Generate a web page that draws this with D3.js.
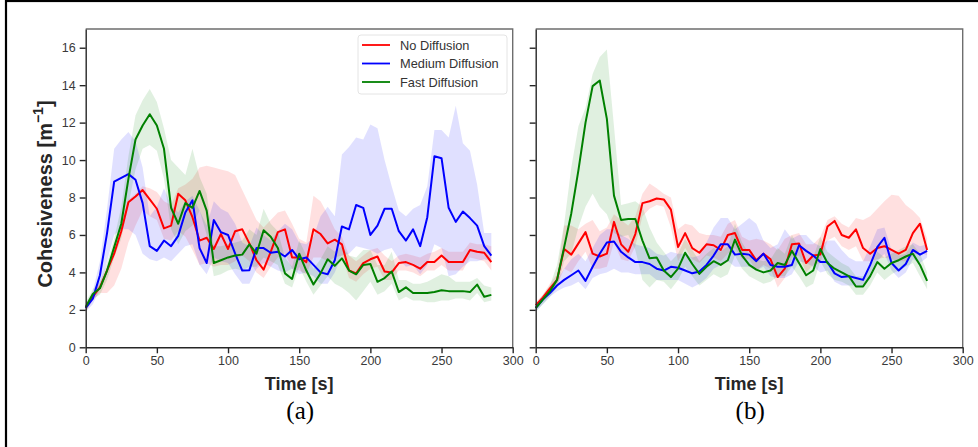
<!DOCTYPE html>
<html>
<head>
<meta charset="utf-8">
<script src="https://cdn.jsdelivr.net/npm/d3@7"></script>
<style>
  body { margin: 0; background: #fff; }
  text { font-family: "Liberation Sans", Arial, sans-serif; }
</style>
</head>
<body>
<script>

// time stamps [s]
var timeA = [0,5,10,15,20,25,30,35,40,45,50,55,60,65,70,75,80,85,90,95,100,105,110,115,120,125,130,135,140,145,
  150,155,160,165,170,175,180,185,190,195,200,205,210,215,220,225,230,235,240,245,250,255,260,265,270,275,280,285];
var timeB = [0,5,10,15,20,25,30,35,40,45,50,55,60,65,70,75,80,85,90,95,100,105,110,115,120,125,130,135,140,145,
  150,155,160,165,170,175,180,185,190,195,200,205,210,215,220,225,230,235,240,245,250,255,260,265,270,275];

var seriesNames = ["No Diffusion", "Medium Diffusion", "Fast Diffusion"];
var seriesColors = ["#ff0000", "#0000ff", "#008000"];
var xTicks = [0, 50, 100, 150, 200, 250, 300];
var yTicks = [0, 2, 4, 6, 8, 10, 12, 14, 16];
var panelLabels = ["(a)", "(b)"];

// panel (a): mean, lower and upper edge of the shaded band
var noDiffA = [2.1,2.7,3.2,4.1,5.0,6.2,7.75,8.05,8.4,7.9, 7.4,6.35,6.5,8.2,7.85,6.95,5.7,5.85,5.25,6.05,
  5.25,6.2,6.3,5.55,4.65,4.15,5.1,6.15,6.3,4.8, 4.8,4.55,6.3,6.05,5.55,5.75,5.5,4.1,3.95,4.5,
  4.7,4.85,4.05,4.0,4.5,4.55,4.4,4.2,4.55,4.55, 4.9,4.55,4.55,4.55,5.2,5.1,5.05,4.55];
var noDiffAHi = [2.3,2.9,3.4,4.3,5.3,6.6,7.9,8.2,8.6,8.5, 8.3,7.8,7.6,8.5,8.7,9.0,9.6,9.7,9.6,9.5,
  9.4,9.2,8.4,7.6,6.8,6.4,6.8,7.2,7.3,6.6, 5.8,5.6,8.1,7.8,7.1,6.3,5.9,4.9,4.6,4.9,
  5.2,5.3,4.9,4.6,4.9,5.0,4.9,4.8,5.0,5.1, 5.3,5.1,5.1,5.1,5.6,5.5,5.5,5.4];
var noDiffALo = [1.9,2.5,2.9,2.9,3.3,4.2,5.6,6.5,7.3,7.0, 6.8,5.8,5.7,6.2,5.9,5.2,4.4,4.5,4.3,4.4,
  4.4,4.6,4.9,4.6,4.0,3.7,4.3,4.8,5.0,4.2, 4.1,3.9,4.8,4.8,4.6,4.8,4.9,3.7,3.5,3.9,
  4.2,4.3,3.6,3.6,4.1,4.1,4.0,3.8,4.1,4.1, 4.4,4.1,4.1,4.1,4.8,4.7,4.6,4.1];

var medDiffA = [2.1,2.6,3.85,6.1,8.85,9.05,9.25,8.95,7.7,5.4, 5.15,5.7,5.4,5.95,7.2,7.85,5.3,4.5,6.8,6.15,
  6.0,5.0,4.1,4.12,5.3,5.3,5.05,5.1,4.85,5.2, 4.7,4.8,4.4,4.0,3.9,4.65,6.45,6.3,7.6,7.45,
  6.0,6.5,7.4,7.4,6.2,5.7,6.3,5.4,6.95,10.2, 10.1,7.45,6.7,7.25,6.9,6.5,5.4,4.9];
var medDiffAHi = [2.3,3.0,4.6,7.4,10.6,11.1,11.5,11.0,9.6,7.0, 7.5,8.5,7.6,7.2,7.8,8.1,7.3,6.5,7.8,7.4,
  7.2,6.6,5.6,5.4,6.4,6.0,5.7,6.2,6.6,6.3, 5.6,5.5,5.9,7.0,7.5,7.0,10.3,10.7,11.2,11.1,
  11.9,11.7,10.0,8.6,7.3,7.0,7.4,7.6,8.6,11.6, 11.6,11.2,12.9,10.9,10.5,8.7,6.1,6.1];
var medDiffALo = [1.9,2.3,3.1,4.6,6.0,6.3,6.3,6.0,5.0,4.7, 4.6,4.8,4.6,5.0,5.4,5.5,4.4,3.9,4.8,4.6,
  4.5,3.9,3.4,3.4,4.2,4.5,4.3,4.1,4.0,4.2, 3.9,4.0,3.8,3.4,3.4,4.0,4.9,5.0,5.4,5.3,
  5.2,5.0,5.2,5.3,4.7,4.3,4.4,3.9,4.4,5.5, 5.3,3.8,3.9,4.3,4.6,4.6,4.7,4.6];

var fastDiffA = [2.15,2.85,3.15,4.1,5.35,6.6,9.0,11.1,11.85,12.45, 11.85,10.6,7.45,6.6,7.7,7.45,8.35,7.3,4.5,4.65,
  4.8,4.9,4.95,5.5,5.0,6.25,5.9,5.3,3.95,3.65, 5.0,4.1,3.35,3.95,4.7,4.35,4.75,4.1,3.9,4.4,
  4.45,3.5,3.7,4.05,2.95,3.2,2.9,2.9,2.9,2.95, 3.05,3.0,3.0,3.0,2.95,3.35,2.7,2.8];
var fastDiffAHi = [2.4,3.1,3.5,4.5,5.8,7.5,10.2,12.4,13.2,13.8, 13.1,11.7,10.0,9.6,9.2,10.6,9.1,8.2,5.4,5.4,
  5.5,5.6,5.7,6.3,6.0,7.4,6.6,6.2,4.8,4.3, 5.7,4.9,4.2,4.7,5.4,5.1,5.4,4.9,4.8,5.2,
  5.2,4.4,4.4,5.1,3.6,3.6,3.4,3.4,3.5,3.7, 3.9,3.8,3.5,3.5,3.5,3.7,3.3,3.2];
var fastDiffALo = [1.9,2.6,2.8,3.6,4.8,5.8,7.6,9.5,10.6,10.8, 10.5,9.0,6.3,5.5,6.2,6.5,7.3,6.0,3.8,3.9,
  4.1,4.2,4.1,4.3,4.3,4.8,4.6,4.4,3.4,3.2, 4.3,3.5,2.8,3.3,3.8,3.4,3.2,2.9,2.5,3.0,
  3.5,2.8,3.0,3.4,2.5,2.7,2.5,2.5,2.4,2.4, 2.5,2.5,2.6,2.6,2.5,2.9,2.4,2.5];

// panel (b)
var noDiffB = [2.25,2.65,3.15,3.6,5.25,4.95,5.55,6.15,5.0,4.85, 5.0,6.7,5.5,5.1,6.05,7.7,7.8,7.95,7.9,7.35,
  5.35,6.1,5.3,5.05,5.5,5.45,5.2,6.0,6.1,5.2, 5.2,4.65,5.0,4.7,3.75,4.2,5.5,5.55,4.5,4.9,
  4.95,6.45,6.75,6.0,5.85,6.3,5.3,5.0,5.3,5.4, 5.2,5.0,5.2,6.1,6.6,5.2];
var noDiffBHi = [2.4,2.8,3.4,3.9,6.5,6.5,6.3,6.6,6.8,6.2, 6.4,7.1,6.8,6.5,7.0,8.2,8.75,8.5,8.2,8.0,
  6.3,6.6,6.5,6.1,6.0,6.0,5.9,6.6,6.8,5.9, 5.7,5.8,5.7,5.5,5.2,5.8,6.0,6.1,5.5,5.5,
  5.9,6.8,7.0,6.6,6.4,6.9,6.8,7.0,7.4,7.8, 8.15,8.1,7.6,7.3,6.9,5.8];
var noDiffBLo = [2.1,2.5,2.9,3.3,4.2,4.0,4.6,5.1,4.2,4.2, 4.3,5.6,4.7,4.6,5.4,7.0,7.4,7.6,7.5,6.4,
  4.6,5.3,4.7,4.5,4.9,4.8,4.6,5.0,5.3,4.7, 4.7,4.1,4.4,4.2,3.2,3.7,4.8,4.9,4.0,4.4,
  4.5,5.7,5.9,5.4,5.2,5.4,4.6,4.6,4.7,4.8, 4.7,4.6,4.6,4.9,5.1,4.9];

var medDiffB = [2.1,2.55,2.9,3.3,3.6,3.85,4.1,3.55,4.3,5.0, 5.6,5.65,5.1,4.8,4.55,4.55,4.45,4.2,4.1,4.3,
  4.25,4.1,3.95,4.05,4.4,4.9,5.5,5.5,4.95,5.0, 4.95,4.6,5.0,4.4,4.3,4.3,4.4,5.45,5.15,4.9,
  4.55,4.55,3.95,3.75,3.8,3.7,3.6,4.4,5.35,5.85, 4.5,4.1,4.45,5.2,4.95,5.15];
var medDiffBHi = [2.3,2.7,3.1,3.6,4.2,4.7,5.0,4.6,5.3,6.0, 6.3,6.3,6.0,5.8,5.5,5.4,5.3,5.0,4.9,5.1,
  5.0,5.0,4.8,4.9,5.6,6.4,6.9,6.9,6.3,6.6, 6.9,6.6,5.7,5.3,5.5,6.3,5.8,6.0,6.0,5.6,
  5.4,5.7,5.7,5.2,4.8,4.6,4.6,5.4,6.3,6.4, 5.2,4.9,5.0,5.6,5.4,5.5];
var medDiffBLo = [1.9,2.3,2.7,3.0,3.2,3.3,3.5,3.1,3.7,3.9, 4.0,4.2,4.0,4.0,3.9,3.9,3.9,3.6,3.6,3.6,
  3.6,3.4,3.2,3.4,3.7,4.2,4.4,4.6,4.3,4.3, 4.3,4.1,4.3,3.8,3.7,3.7,3.9,4.6,4.5,4.3,
  4.0,4.1,3.5,3.3,3.3,3.3,3.2,3.8,4.6,5.0, 4.1,3.7,4.0,4.7,4.5,4.8];

var fastDiffB = [2.1,2.55,3.0,3.6,5.35,7.15,9.45,12.0,13.95,14.25, 12.2,8.1,6.8,6.85,6.85,5.7,4.75,4.8,4.1,3.75,
  4.2,5.05,4.45,3.92,4.3,4.6,4.4,4.65,5.75,4.9, 4.4,4.15,4.0,4.1,4.5,4.4,5.15,4.5,3.85,4.1,
  5.25,4.5,4.2,4.0,3.8,3.25,3.25,3.8,4.55,4.2, 4.5,4.65,4.85,5.0,4.4,3.55];
var fastDiffBHi = [2.3,2.8,3.3,4.4,6.6,9.6,11.8,12.8,14.6,15.5, 15.9,11.8,7.6,7.7,7.8,7.5,6.4,5.6,5.1,4.6,
  5.0,5.8,5.2,4.6,5.0,5.3,5.1,5.4,6.6,5.6, 5.0,4.7,4.6,4.7,5.3,5.0,6.0,5.3,4.5,4.8,
  5.9,5.1,4.8,4.5,4.3,3.8,3.8,4.3,5.1,4.8, 5.0,5.2,5.4,5.5,5.0,4.0];
var fastDiffBLo = [1.9,2.3,2.7,3.2,4.6,5.0,6.4,7.5,8.2,7.5, 7.1,6.1,5.9,6.0,5.2,3.6,3.2,3.6,3.5,3.1,
  3.6,4.3,3.8,3.3,3.6,3.9,3.7,3.9,4.9,4.2, 3.8,3.6,3.4,3.5,3.8,3.8,4.3,3.8,3.2,3.4,
  4.6,3.9,3.6,3.5,3.3,2.8,2.8,3.3,4.0,3.6, 3.9,4.1,4.3,4.5,3.8,3.1];

var panels = [
  { left: 85.7, time: timeA, mean: [noDiffA, medDiffA, fastDiffA],
    lo: [noDiffALo, medDiffALo, fastDiffALo], hi: [noDiffAHi, medDiffAHi, fastDiffAHi],
    yLabels: true, legend: true, label: panelLabels[0] },
  { left: 535.7, time: timeB, mean: [noDiffB, medDiffB, fastDiffB],
    lo: [noDiffBLo, medDiffBLo, fastDiffBLo], hi: [noDiffBHi, medDiffBHi, fastDiffBHi],
    yLabels: false, legend: false, label: panelLabels[1] }
];

var W = 978, H = 447;
var plotW = 427, plotTop = 29, plotBottom = 347.3;

var svg = d3.select("body").append("svg")
  .attr("width", W)
  .attr("height", H);

svg.append("rect").attr("width", W).attr("height", H).attr("fill", "#fff");

// outer frame (only top and left edge show in the picture)
svg.append("rect")
  .attr("x", 6).attr("y", 1)
  .attr("width", W + 20).attr("height", H + 20)
  .attr("fill", "none").attr("stroke", "#000").attr("stroke-width", 2.2);

var y = d3.scaleLinear().domain([0, 17]).range([plotBottom, plotTop]);

panels.forEach(function (p) {
  var x = d3.scaleLinear().domain([0, 300]).range([p.left, p.left + plotW]);
  var g = svg.append("g");

  // shaded bands
  p.mean.forEach(function (m, k) {
    var area = d3.area()
      .x(function (d, i) { return x(p.time[i]); })
      .y0(function (d, i) { return y(p.lo[k][i]); })
      .y1(function (d, i) { return y(p.hi[k][i]); });
    g.append("path")
      .attr("d", area(m))
      .attr("fill", seriesColors[k])
      .attr("fill-opacity", 0.12);
  });

  // mean lines
  p.mean.forEach(function (m, k) {
    var line = d3.line()
      .x(function (d, i) { return x(p.time[i]); })
      .y(function (d) { return y(d); });
    g.append("path")
      .attr("d", line(m))
      .attr("fill", "none")
      .attr("stroke", seriesColors[k])
      .attr("stroke-width", 2)
      .attr("stroke-linejoin", "round");
  });

  // top/right spines, grey
  g.append("path")
    .attr("d", "M" + x(0) + "," + plotTop + "H" + x(300) + "V" + plotBottom)
    .attr("fill", "none").attr("stroke", "#6e6e6e").attr("stroke-width", 1.4);

  var xAxis = g.append("g")
    .attr("transform", "translate(0," + plotBottom + ")")
    .call(d3.axisBottom(x).tickValues(xTicks).tickSize(6).tickSizeOuter(0).tickPadding(3));
  var yAxis = g.append("g")
    .attr("transform", "translate(" + p.left + ",0)")
    .call(d3.axisLeft(y).tickValues(yTicks).tickSize(6).tickSizeOuter(0).tickPadding(4)
      .tickFormat(p.yLabels ? d3.format("d") : function () { return ""; }));

  [xAxis, yAxis].forEach(function (ax) {
    ax.select(".domain").attr("stroke", "#262626").attr("stroke-width", 1.4);
    ax.selectAll(".tick line").attr("stroke", "#262626").attr("stroke-width", 1.4);
    ax.selectAll(".tick text")
      .attr("fill", "#3a3a3a")
      .style("font-family", "'Liberation Sans', Arial, sans-serif")
      .style("font-size", "12.5px");
  });

  g.append("text")
    .attr("x", p.left + plotW / 2)
    .attr("y", 390)
    .attr("text-anchor", "middle")
    .style("font-size", "18px")
    .style("font-weight", "bold")
    .attr("fill", "#262626")
    .text("Time [s]");

  g.append("text")
    .attr("x", p.left + plotW / 2 + 1)
    .attr("y", 419)
    .attr("text-anchor", "middle")
    .style("font-family", "'Liberation Serif', 'Times New Roman', serif")
    .style("font-size", "25px")
    .attr("fill", "#000")
    .text(p.label);

  if (p.legend) {
    var lg = g.append("g").attr("transform", "translate(358,35)");
    lg.append("rect")
      .attr("width", 149).attr("height", 59).attr("rx", 3)
      .attr("fill", "#fff").attr("fill-opacity", 0.8)
      .attr("stroke", "#e4e4e4").attr("stroke-width", 1);
    seriesNames.forEach(function (name, k) {
      var yy = 10 + k * 18.5;
      lg.append("line")
        .attr("x1", 4).attr("x2", 32).attr("y1", yy).attr("y2", yy)
        .attr("stroke", seriesColors[k]).attr("stroke-width", 1.8);
      lg.append("text")
        .attr("x", 42).attr("y", yy + 4.5)
        .style("font-size", "12.8px")
        .attr("fill", "#333")
        .text(name);
    });
  }
});

// y axis title with superscript
var yt = svg.append("text")
  .attr("transform", "translate(52,194) rotate(-90)")
  .attr("text-anchor", "middle")
  .style("font-size", "20px")
  .style("font-weight", "bold")
  .attr("fill", "#262626");
yt.append("tspan").text("Cohesiveness [m");
yt.append("tspan").attr("dy", -9).style("font-size", "14px").text("\u22121");
yt.append("tspan").attr("dy", 9).text("]");

</script>
</body>
</html>
